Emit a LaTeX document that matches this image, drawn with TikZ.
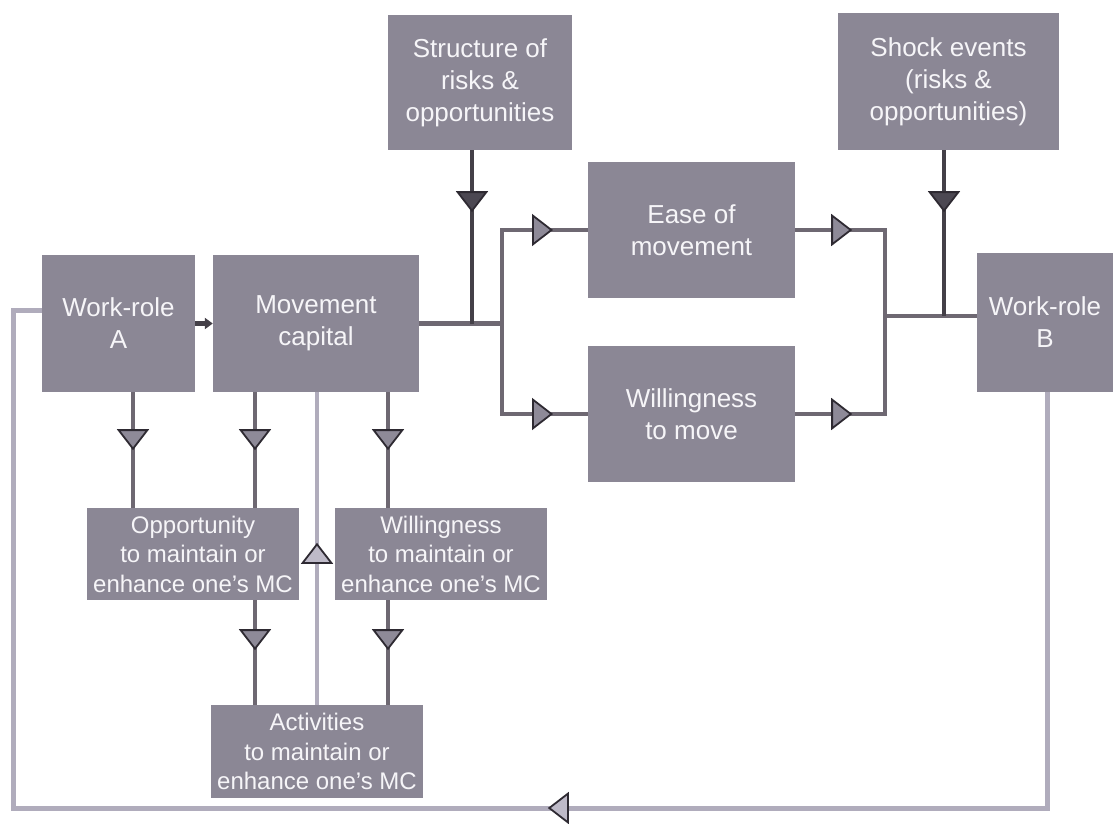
\documentclass[tikz,border=0pt]{standalone}
\usepackage{fontspec}
\setmainfont{Liberation Sans}
\usetikzlibrary{arrows.meta,decorations.markings}
\definecolor{boxfill}{RGB}{139,135,149}
\definecolor{boxtext}{RGB}{246,245,248}
\definecolor{linecol}{RGB}{110,104,114}
\definecolor{darkline}{RGB}{68,64,72}
\definecolor{tipfill}{RGB}{142,138,152}
\definecolor{tipline}{RGB}{46,42,50}
\definecolor{darktip}{RGB}{76,72,82}
\definecolor{lightline}{RGB}{176,172,188}
\definecolor{lighttip}{RGB}{190,186,200}
\tikzset{
  Tri/.tip={Triangle[width=32pt,length=21pt,line width=1.8pt,color=tipline,fill=tipfill]},
  DTri/.tip={Triangle[width=32pt,length=21pt,line width=1.8pt,color=tipline,fill=darktip]},
  LTri/.tip={Triangle[width=32pt,length=21pt,line width=1.8pt,color=tipline,fill=lighttip]},
  tip at/.style 2 args={postaction={decorate,decoration={markings,mark=at position #1 with {\arrow{#2}}}}},
  box/.style={fill=boxfill,text=boxtext,align=center,inner sep=0pt,font=\fontsize{26}{32}\selectfont},
  sbox/.style={box,font=\fontsize{24}{29.5}\selectfont},
  conn/.style={draw=linecol,line width=4.2pt},
  dconn/.style={draw=darkline,line width=4.2pt},
  fb/.style={draw=lightline,line width=5pt},
  upl/.style={draw=lightline,line width=3.4pt},
}
\begin{document}
\begin{tikzpicture}[x={(1pt,0pt)},y={(0pt,-1pt)}]
\useasboundingbox (0,0) rectangle (1113,823);

% boxes
\node[box,minimum width=153pt,minimum height=137pt] (A) at (118.5,323.5) {Work-role\\A};
\node[box,minimum width=206pt,minimum height=137pt] (MC) at (316,323.5) {Movement\\capital};
\node[box,minimum width=184pt,minimum height=135pt] (Str) at (480,82.5) {Structure of\\risks \&\\opportunities};
\node[box,minimum width=221pt,minimum height=137pt] (Shock) at (948.5,81.5) {Shock events\\(risks \&\\opportunities)};
\node[box,minimum width=207pt,minimum height=136pt] (Ease) at (691.5,230) {Ease of\\movement};
\node[box,minimum width=207pt,minimum height=136pt] (WM) at (691.5,414) {Willingness\\to move};
\node[box,minimum width=136pt,minimum height=139pt] (B) at (1045,322.5) {Work-role\\B};
\node[sbox,minimum width=212pt,minimum height=92pt] (Opp) at (193,554) {Opportunity\\to maintain or\\enhance one's MC};
\node[sbox,minimum width=212pt,minimum height=92pt] (WMa) at (441,554) {Willingness\\to maintain or\\enhance one's MC};
\node[sbox,minimum width=212pt,minimum height=93pt] (Act) at (317,751.5) {Activities\\to maintain or\\enhance one's MC};

% junction coordinates
\coordinate (jl) at (502,323.5);
\coordinate (jr) at (885,316);

% A -> MC
\draw[dconn,-{Triangle[width=11pt,length=8pt]}] (A.east) -- (MC.west);

% MC -> branches
\draw[conn] (MC.east) -- (jl);
\draw[dconn,tip at={62pt}{DTri}] (Str.south -| 472,0) -- (472,323.5);
\draw[conn,line cap=rect] (jl |- Ease.west) -- (jl |- WM.west);
\draw[conn,tip at={51pt}{Tri}] (jl |- Ease.west) -- (Ease.west);
\draw[conn,tip at={51pt}{Tri}] (jl |- WM.west) -- (WM.west);

% branches -> B
\draw[conn,tip at={57pt}{Tri}] (Ease.east) -- (jr |- Ease.east);
\draw[conn,tip at={57pt}{Tri}] (WM.east) -- (jr |- WM.east);
\draw[conn,line cap=rect] (jr |- Ease.east) -- (jr |- WM.east);
\draw[conn] (jr) -- (jr -| B.west);
\draw[dconn,tip at={62pt}{DTri}] (Shock.south -| 944,0) -- (944,316);

% downward arrows
\draw[conn,tip at={58pt}{Tri}] (A.south -| 133,0) -- (Opp.north -| 133,0);
\draw[conn,tip at={58pt}{Tri}] (MC.south -| 255,0) -- (Opp.north -| 255,0);
\draw[conn,tip at={58pt}{Tri}] (MC.south -| 388,0) -- (WMa.north -| 388,0);
\draw[conn,tip at={50pt}{Tri}] (Opp.south -| 255,0) -- (Act.north -| 255,0);
\draw[conn,tip at={50pt}{Tri}] (WMa.south -| 388,0) -- (Act.north -| 388,0);

% Activities -> MC (light)
\draw[upl,tip at={162pt}{LTri}] (Act.north) -- (Act.north |- MC.south);

% feedback loop B -> A
\draw[fb,line join=miter,tip at={915pt}{LTri}] (B.south -| 1047,0) -- (1047,808) -- (13,808) -- (13,310) -- (A.west |- 0,310);
\end{tikzpicture}
\end{document}
